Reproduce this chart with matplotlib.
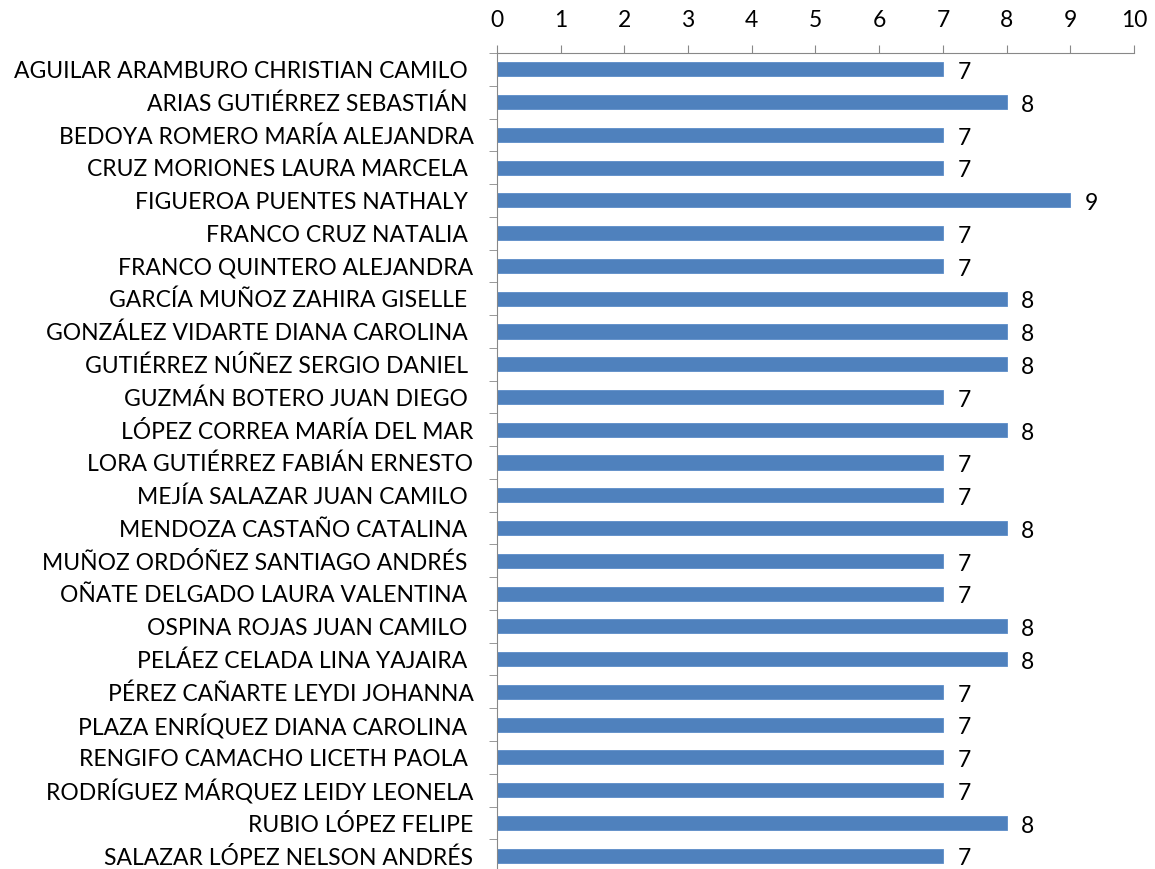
import matplotlib.pyplot as plt
from matplotlib.ticker import FixedLocator

plt.rcParams['font.family'] = ['Lato', 'DejaVu Sans']

# Data
names = [
    "AGUILAR ARAMBURO CHRISTIAN CAMILO ",
    "ARIAS GUTIÉRREZ SEBASTIÁN ",
    "BEDOYA ROMERO MARÍA ALEJANDRA",
    "CRUZ MORIONES LAURA MARCELA ",
    "FIGUEROA PUENTES NATHALY ",
    "FRANCO CRUZ NATALIA ",
    "FRANCO QUINTERO ALEJANDRA",
    "GARCÍA MUÑOZ ZAHIRA GISELLE ",
    "GONZÁLEZ VIDARTE DIANA CAROLINA ",
    "GUTIÉRREZ NÚÑEZ SERGIO DANIEL ",
    "GUZMÁN BOTERO JUAN DIEGO ",
    "LÓPEZ CORREA MARÍA DEL MAR",
    "LORA GUTIÉRREZ FABIÁN ERNESTO",
    "MEJÍA SALAZAR JUAN CAMILO ",
    "MENDOZA CASTAÑO CATALINA ",
    "MUÑOZ ORDÓÑEZ SANTIAGO ANDRÉS ",
    "OÑATE DELGADO LAURA VALENTINA ",
    "OSPINA ROJAS JUAN CAMILO ",
    "PELÁEZ CELADA LINA YAJAIRA ",
    "PÉREZ CAÑARTE LEYDI JOHANNA",
    "PLAZA ENRÍQUEZ DIANA CAROLINA ",
    "RENGIFO CAMACHO LICETH PAOLA ",
    "RODRÍGUEZ MÁRQUEZ LEIDY LEONELA",
    "RUBIO LÓPEZ FELIPE",
    "SALAZAR LÓPEZ NELSON ANDRÉS",
]
grades = [7, 8, 7, 7, 9, 7, 7, 8, 8, 8, 7, 8, 7, 7, 8, 7, 7, 8, 8, 7, 7, 7, 7, 8, 7]
x_ticks = list(range(0, 11))

fig = plt.figure(figsize=(11.55, 8.69), dpi=100)
ax = fig.add_axes([0.4303, -0.0035, 0.5515, 0.9425])

pos = list(range(len(names)))
ax.barh(pos, grades, height=0.43, color="#4F81BD", edgecolor="#5B8CC8", linewidth=0.6)

for p, g in zip(pos, grades):
    ax.text(g + 0.23, p + 0.1, str(g), va="center", ha="left", fontsize=16.5)

ax.set_xlim(0, 10)
ax.set_ylim(len(names) - 0.5, -0.5)

# Axis on top
ax.xaxis.tick_top()
ax.set_xticks(x_ticks)
ax.tick_params(axis="x", direction="out", length=6, color="#888888", pad=10, labelsize=16.5)

ax.set_yticks(pos)
ax.set_yticklabels(names, fontsize=16.5)
ax.tick_params(axis="y", which="major", length=0, pad=17)
ax.yaxis.set_minor_locator(FixedLocator([i - 0.5 for i in range(len(names) + 1)]))
ax.tick_params(axis="y", which="minor", direction="out", length=6, color="#888888")

for s in ["right", "bottom"]:
    ax.spines[s].set_visible(False)
ax.spines["top"].set_color("#888888")
ax.spines["left"].set_color("#888888")

fig.savefig("out.png", dpi=100)
